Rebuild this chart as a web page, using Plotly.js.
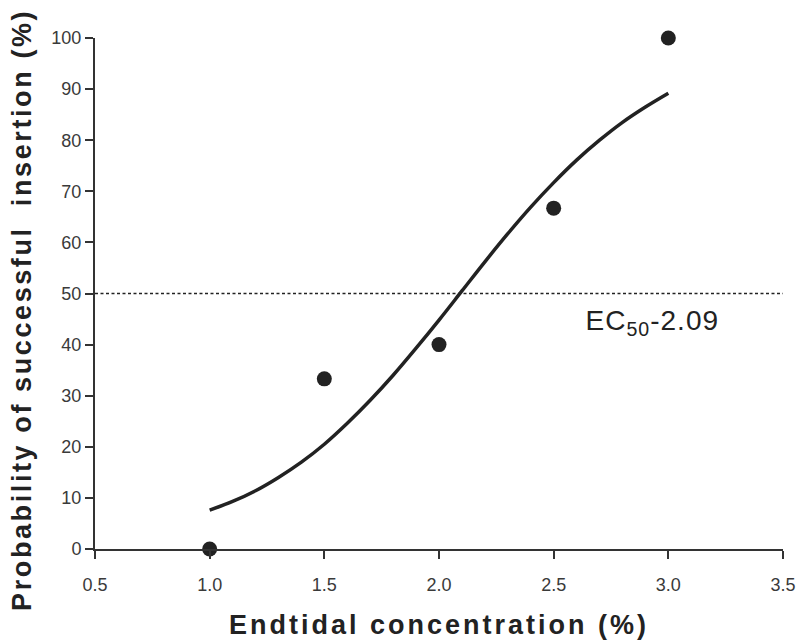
<!DOCTYPE html>
<html>
<head>
<meta charset="utf-8">
<script src="https://cdn.plot.ly/plotly-3.0.1.min.js"></script>
<style>
html,body{margin:0;padding:0;background:#fff;}
#chart{width:800px;height:643px;}
#chart .xtitle{letter-spacing:3px;}
#chart text.annotation-text[data-unformatted^="Probability"]{letter-spacing:2.6px;}
#chart text.annotation-text[data-unformatted^="EC"]{letter-spacing:1px;}
</style>
</head>
<body>
<div id="chart"></div>
<script>
// Observed data points
const concentration = [1.0, 1.5, 2.0, 2.5, 3.0];
const probability = [0, 33.3, 40, 66.7, 100];

// Fitted curve
const fitX = [1.0, 1.1, 1.2, 1.3, 1.4, 1.5, 1.6, 1.7, 1.8, 1.9, 2.0, 2.1, 2.2, 2.3, 2.4, 2.5, 2.6, 2.7, 2.8, 2.9, 3.0];
const fitY = [7.6, 9.3, 11.4, 14.0, 17.0, 20.5, 24.6, 29.1, 34.0, 39.3, 44.8, 50.5, 56.2, 61.7, 66.9, 71.7, 76.1, 80.0, 83.5, 86.5, 89.2];

// Reference line and texts
const refLevel = 50;
const ec50Label = 'EC<sub>50</sub>-2.09';
const xTitle = 'Endtidal concentration (%)';
const yTitle = 'Probability of successful  insertion (%)';
const xTicks = [0.5, 1.0, 1.5, 2.0, 2.5, 3.0, 3.5];
const xTickText = ['0.5', '1.0', '1.5', '2.0', '2.5', '3.0', '3.5'];
const yTicks = [0, 10, 20, 30, 40, 50, 60, 70, 80, 90, 100];

const ink = '#222';
const font = 'Liberation Sans, Arial, sans-serif';

const traces = [
  {
    x: [0.5, 3.5], y: [refLevel, refLevel], mode: 'lines', type: 'scatter',
    line: {color: ink, width: 1.5, dash: '3px,2.5px'}, hoverinfo: 'skip', cliponaxis: false
  },
  {
    x: fitX, y: fitY, mode: 'lines', type: 'scatter',
    line: {color: ink, width: 3.5, shape: 'spline', smoothing: 1}
  },
  {
    x: concentration, y: probability, mode: 'markers', type: 'scatter',
    marker: {color: ink, size: 15}, cliponaxis: false
  }
];

const layout = {
  width: 800, height: 643,
  margin: {l: 95, r: 17, t: 38, b: 94},
  paper_bgcolor: '#fff', plot_bgcolor: '#fff',
  showlegend: false,
  font: {family: font, color: '#333'},
  xaxis: {
    range: [0.5, 3.5], tickvals: xTicks, ticktext: xTickText,
    showgrid: false, zeroline: false, showline: true, linecolor: '#333', linewidth: 2,
    ticks: 'outside', ticklen: 8, tickwidth: 2, tickcolor: '#333',
    ticklabelstandoff: 10,
    tickfont: {size: 18, color: '#3a3a3a', family: font},
    title: {text: xTitle, font: {size: 27, color: '#222', family: font, weight: 'bold'}, standoff: 22}
  },
  yaxis: {
    range: [0, 100], tickvals: yTicks,
    showgrid: false, zeroline: false, showline: true, linecolor: '#333', linewidth: 2,
    ticks: 'outside', ticklen: 8, tickwidth: 2, tickcolor: '#333',
    tickfont: {size: 18, color: '#3a3a3a', family: font}
  },
  annotations: [
    {x: -0.106, y: 0.468, xref: 'paper', yref: 'paper', xanchor: 'center', yanchor: 'middle',
     text: yTitle, textangle: -90, showarrow: false,
     font: {size: 27, color: '#222', family: font, weight: 'bold'}},
    {x: 2.93, y: 44.4, xref: 'x', yref: 'y', text: ec50Label, showarrow: false,
     font: {size: 28, color: ink, family: font}}
  ]
};

Plotly.newPlot('chart', traces, layout, {displayModeBar: false, staticPlot: true});
</script>
</body>
</html>
